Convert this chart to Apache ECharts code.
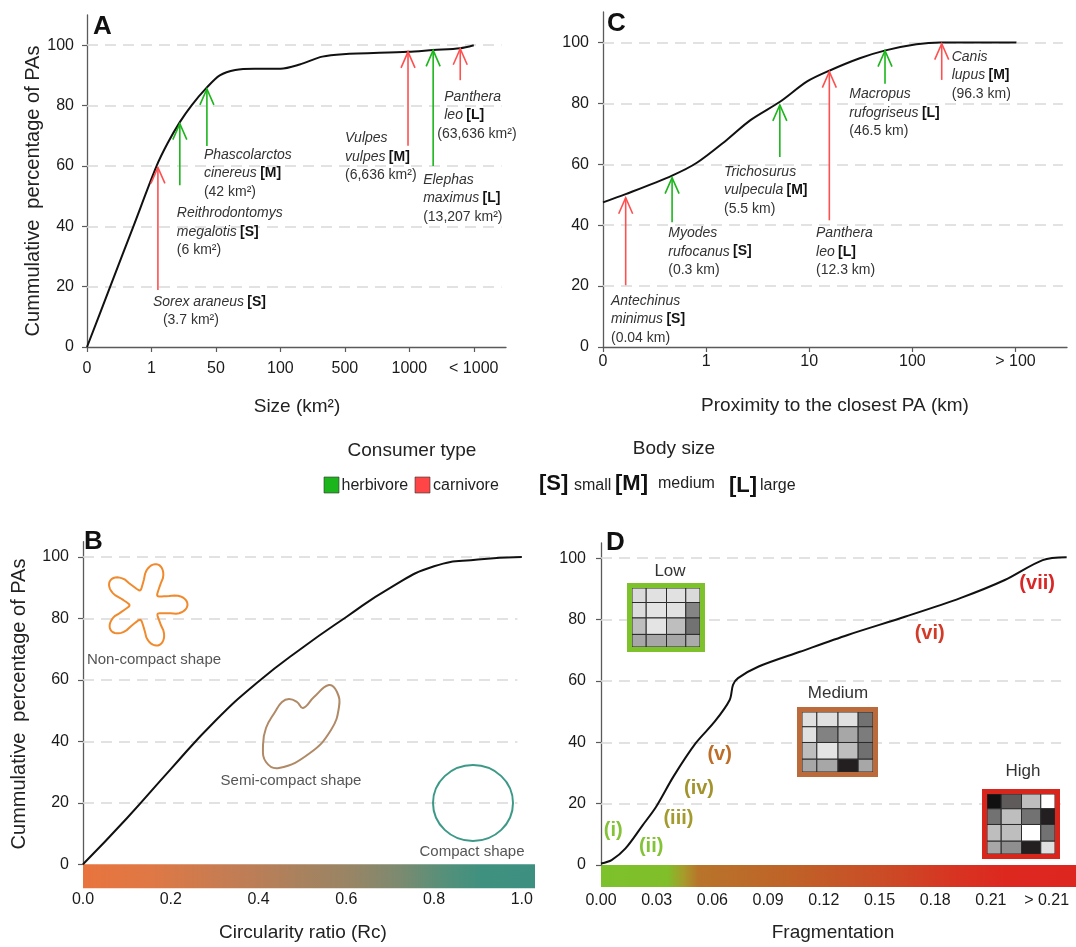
<!DOCTYPE html>
<html>
<head>
<meta charset="utf-8">
<script src="https://cdn.jsdelivr.net/npm/echarts@6/dist/echarts.min.js"></script>
<style>
  html, body { margin: 0; padding: 0; background: #fff; }
  #c { width: 1076px; height: 947px; }
</style>
</head>
<body>
<div id="c"></div>
<script>
// ---------- shared ----------
const pctTicks = [0, 20, 40, 60, 80, 100];

// ---------- A: size of protected areas ----------
const sizeTicks = ['0', '1', '50', '100', '500', '1000', '< 1000'];
const sizeCurve = [[0, 0], [0.36, 20], [0.72, 40], [1.08, 60], [1.25, 67.5], [1.44, 74.5], [1.62, 80],
  [1.86, 86], [2.06, 90], [2.3, 91.8], [2.6, 92.2], [3.0, 92.2], [3.3, 93.6], [3.65, 96.2], [3.97, 97],
  [4.98, 97.8], [5.37, 98.4], [5.79, 99], [6.0, 100]];
const sizeSpecies = ['Sorex araneus', 'Reithrodontomys\nmegalotis', 'Phascolarctos\ncinereus',
  'Vulpes\nvulpes', 'Elephas\nmaximus', 'Panthera\nleo'];
const sizeBody = ['S', 'S', 'M', 'M', 'L', 'L'];
const sizeArea = ['3.7 km²', '6 km²', '42 km²', '6,636 km²', '13,207 km²', '63,636 km²'];
const sizeDiet = ['carnivore', 'herbivore', 'herbivore', 'carnivore', 'herbivore', 'carnivore'];
const sizeArrowX = [1.1, 1.44, 1.86, 4.98, 5.37, 5.79];
const sizeArrowTip = [59.5, 74, 85.5, 97.8, 98.3, 98.8];
const sizeArrowTail = [18.9, 53.6, 66.6, 66.7, 60, 88.4];

// ---------- C: proximity to the closest PA ----------
const proxTicks = ['0', '1', '10', '100', '> 100'];
const proxCurve = [[0, 47.5], [0.22, 50.2], [0.67, 56.3], [0.91, 60.5], [1.2, 68], [1.43, 74.5],
  [1.72, 80.6], [1.98, 87.2], [2.2, 90.8], [2.49, 94.8], [2.74, 97.4], [3.04, 99.4], [3.27, 100], [4.01, 100]];
const proxSpecies = ['Antechinus\nminimus', 'Myodes\nrufocanus', 'Trichosurus\nvulpecula',
  'Panthera\nleo', 'Macropus\nrufogriseus', 'Canis\nlupus'];
const proxBody = ['S', 'S', 'M', 'L', 'L', 'M'];
const proxDist = ['0.04 km', '0.3 km', '5.5 km', '12.3 km', '46.5 km', '96.3 km'];
const proxDiet = ['carnivore', 'herbivore', 'herbivore', 'carnivore', 'herbivore', 'carnivore'];
const proxArrowX = [0.22, 0.67, 1.715, 2.195, 2.735, 3.285];
const proxArrowTip = [49, 55.6, 79.5, 90.4, 97.3, 99.6];
const proxArrowTail = [20.3, 41, 62.4, 41.6, 86.4, 87.7];

// ---------- B: circularity ratio ----------
const circTicks = [0, 0.2, 0.4, 0.6, 0.8, 1.0];
const circCurve = [[0, 0], [0.1, 15], [0.2, 31], [0.3, 46.5], [0.4, 59.5], [0.5, 70.5], [0.6, 80.5],
  [0.7, 90], [0.8, 97], [0.9, 99.2], [1.0, 100]];
const shapeNames = ['Non-compact shape', 'Semi-compact shape', 'Compact shape'];

// ---------- D: fragmentation ----------
const fragTicks = ['0.00', '0.03', '0.06', '0.09', '0.12', '0.15', '0.18', '0.21', '> 0.21'];
const fragCurve = [[0, 0.5], [0.19, 1.6], [0.44, 5.4], [0.75, 13], [0.99, 19], [1.3, 28.8], [1.7, 39.7],
  [2.04, 46.7], [2.31, 53.8], [2.37, 58.7], [2.46, 60.9], [2.83, 64.7], [3.57, 69.5], [4.43, 75],
  [5.47, 81], [6.45, 87], [7.25, 92.9], [7.93, 99.4], [8.36, 100.3]];
const stageNames = ['(i)', '(ii)', '(iii)', '(iv)', '(v)', '(vi)', '(vii)'];
const levelNames = ['Low', 'Medium', 'High'];
const lowCells = ['#dadada', '#e1e1e1', '#e1e1e1', '#dadada',
                  '#dcdcdc', '#e4e4e4', '#e1e1e1', '#858585',
                  '#bebebe', '#e4e4e4', '#bebebe', '#727272',
                  '#a7a7a7', '#a7a7a7', '#a7a7a7', '#ababab'];
const mediumCells = ['#e0e0e0', '#e0e0e0', '#e0e0e0', '#727272',
                     '#e0e0e0', '#828282', '#a7a7a7', '#7c7c7c',
                     '#bebebe', '#e4e4e4', '#bebebe', '#707070',
                     '#a7a7a7', '#a7a7a7', '#231f20', '#a7a7a7'];
const highCells = ['#111111', '#5f5b5b', '#bebebe', '#ffffff',
                   '#727272', '#bebebe', '#727272', '#231f20',
                   '#bebebe', '#bebebe', '#ffffff', '#727272',
                   '#a7a7a7', '#8f8f8f', '#231f20', '#e0e0e0'];

// ---------- layout & style ----------
const FONT = '"Liberation Sans", Arial, sans-serif';
const GREEN = '#1cb51c', RED = '#ff5050';
const TXT = '#333';
const AXC = '#5a5a5a';
const LINE_H = 18.5;
// text block offsets (px) from each arrow tail: [dx, dy, per-line indent]
const sizeLabelLayout = [[-5, 12, [0, 10]], [-3, 28], [-3, 9], [-63, -7.5], [-10, 14], [-16, 16.5, [0, 0, -7]]];
const proxLabelLayout = [[-14.7, 15.5], [-3.8, 11], [-55.8, 14.7], [-13.3, 13], [-35.7, 10.4], [10, -23.2]];
const stagePos = [[0.22, 11.4], [0.9, 6], [1.39, 15.2], [1.76, 25], [2.13, 35.9], [5.9, 75.5], [7.83, 91.8]];
const stageColors = ['#84c238', '#84c238', '#a39b2e', '#a2932c', '#bd6d28', '#d33a28', '#d92626'];

// grids: A, C, B, D (px)
const G = [
  { left: 87, top: 15, width: 419, height: 332 },
  { left: 603, top: 12, width: 464, height: 335 },
  { left: 83, top: 541.7, width: 452, height: 322.6 },
  { left: 601, top: 542.9, width: 475, height: 322.1 }
];

function yAxisCfg(gi, max, margin) {
  return {
    type: 'value', gridIndex: gi, min: 0, max: max,
    axisLine: { show: true, lineStyle: { color: AXC, width: 1.3 } },
    axisTick: { show: true, length: 5, customValues: pctTicks, lineStyle: { color: AXC, width: 1.2 } },
    axisLabel: { customValues: pctTicks, margin: margin, fontSize: 16, color: '#1a1a1a', fontFamily: FONT },
    splitLine: { show: false }
  };
}
function xAxisCfg(gi, max, ticks, fmt, margin, showLine) {
  return {
    type: 'value', gridIndex: gi, min: 0, max: max,
    axisLine: { show: showLine, onZero: false, lineStyle: { color: AXC, width: 1.3 } },
    axisTick: { show: showLine, length: 5, customValues: ticks, lineStyle: { color: AXC, width: 1.2 } },
    axisLabel: { customValues: ticks, formatter: fmt, margin: margin, fontSize: 16, color: '#1a1a1a', fontFamily: FONT },
    splitLine: { show: false }
  };
}
function gridLines(gi, xEnd) {
  return {
    type: 'line', xAxisIndex: gi, yAxisIndex: gi, data: [], z: 1, silent: true,
    markLine: {
      z: 1, silent: true, symbol: ['none', 'none'], label: { show: false }, animation: false,
      lineStyle: { color: '#d9d9d9', type: [11, 7], width: 1.5 },
      emphasis: { disabled: true },
      data: pctTicks.slice(1).map(v => [{ coord: [0, v] }, { coord: [xEnd, v] }])
    }
  };
}
function curve(gi, data, smooth) {
  return {
    type: 'line', xAxisIndex: gi, yAxisIndex: gi, data: data, z: 3,
    showSymbol: false, smooth: smooth, silent: true,
    lineStyle: { color: '#111', width: 2 }
  };
}
const RICH = {
  i: { fontStyle: 'italic', fontSize: 14, fontFamily: FONT, fill: TXT },
  b: { fontWeight: 'bold', fontSize: 14, fontFamily: FONT, fill: '#111' },
  n: { fontSize: 14, fontFamily: FONT, fill: TXT }
};
function textLines(species, body, amount) {
  const parts = species.split('\n');
  const lines = [];
  if (parts.length === 1) {
    lines.push('{i|' + parts[0] + '} {b|[' + body + ']}');
  } else {
    lines.push('{i|' + parts[0] + '}');
    lines.push('{i|' + parts[1] + '} {b|[' + body + ']}');
  }
  lines.push('{n|(' + amount + ')}');
  return lines;
}
function arrows(gi, xs, tips, tails, diets, species, bodies, amounts, layout) {
  return {
    type: 'custom', xAxisIndex: gi, yAxisIndex: gi, z: 5, silent: true, clip: false,
    data: xs.map((x, i) => [x, tips[i], tails[i], i]),
    renderItem: function (params, api) {
      const i = api.value(3);
      const tip = api.coord([api.value(0), api.value(1)]);
      const tail = api.coord([api.value(0), api.value(2)]);
      const col = diets[i] === 'herbivore' ? GREEN : RED;
      const children = [
        { type: 'line', shape: { x1: tail[0], y1: tail[1], x2: tip[0], y2: tip[1] },
          style: { stroke: col, lineWidth: 1.6 } },
        { type: 'polyline', shape: { points: [[tip[0] - 7, tip[1] + 16], [tip[0], tip[1]], [tip[0] + 7, tip[1] + 16]] },
          style: { stroke: col, lineWidth: 1.6, fill: null } }
      ];
      const lay = layout[i];
      const ind = lay[2] || [];
      textLines(species[i], bodies[i], amounts[i]).forEach((ln, k) => {
        children.push({
          type: 'text', x: tail[0] + lay[0] + (ind[k] || 0), y: tail[1] + lay[1] + k * LINE_H,
          style: { text: ln, rich: RICH, align: 'left', verticalAlign: 'middle' }
        });
      });
      return { type: 'group', children: children };
    }
  };
}
// stage numerals placed in data coordinates of panel D
function stageLabels(gi) {
  return {
    type: 'custom', xAxisIndex: gi, yAxisIndex: gi, z: 6, silent: true, clip: false,
    data: stagePos.map((p, i) => [p[0], p[1], i]),
    renderItem: function (params, api) {
      const i = api.value(2);
      const p = api.coord([api.value(0), api.value(1)]);
      return {
        type: 'text', x: p[0], y: p[1],
        style: { text: stageNames[i], font: 'bold 20px ' + FONT, fill: stageColors[i],
          align: 'center', verticalAlign: 'middle' }
      };
    }
  };
}

// ---------- decorative graphics ----------
function txt(x, y, s, font, opts) {
  return Object.assign({
    type: 'text', x: x, y: y, z: 10,
    style: Object.assign({ text: s, font: font + ' ' + FONT, fill: '#222', align: 'center', verticalAlign: 'middle' }, (opts && opts.style) || {})
  }, opts && opts.el || {});
}
function flower(cx, cy, r0, amp, rot) {
  const pts = [];
  for (let k = 0; k < 160; k++) {
    const t = k / 160 * Math.PI * 2;
    const c = Math.cos(5 * (t - rot));
    const r = r0 + amp * Math.sign(c) * Math.pow(Math.abs(c), 0.7);
    pts.push([cx + r * Math.cos(t), cy + r * Math.sin(t)]);
  }
  return pts;
}
function gridBox(x, y, w, h, border, cells) {
  const colW = [14, 20, 19, 14], rowH = [15, 16, 17, 13];
  const iw = w - 10, ih = h - 10;
  const cs = colW.reduce((a, b) => a + b), rs = rowH.reduce((a, b) => a + b);
  const out = [];
  let yy = y + 5;
  for (let r = 0; r < 4; r++) {
    let xx = x + 5;
    const hh = rowH[r] / rs * ih;
    for (let c = 0; c < 4; c++) {
      const ww = colW[c] / cs * iw;
      out.push({ type: 'rect', z: 10, shape: { x: xx, y: yy, width: ww, height: hh },
        style: { fill: cells[r * 4 + c], stroke: '#2b2b2b', lineWidth: 1 } });
      xx += ww;
    }
    yy += hh;
  }
  out.push({ type: 'rect', z: 11, shape: { x: x + 2.5, y: y + 2.5, width: w - 5, height: h - 5 },
    style: { fill: 'none', stroke: border, lineWidth: 5 } });
  return out;
}

const gB = G[2], gD = G[3];
const graphics = [
  // panel letters
  txt(93, 27, 'A', 'bold 26px', { style: { align: 'left', fill: '#111' } }),
  txt(607, 24, 'C', 'bold 26px', { style: { align: 'left', fill: '#111' } }),
  txt(84, 542, 'B', 'bold 26px', { style: { align: 'left', fill: '#111' } }),
  txt(606, 543, 'D', 'bold 26px', { style: { align: 'left', fill: '#111' } }),
  // axis titles
  txt(33, 191, 'Cummulative  percentage of PAs', '20px', { el: { rotation: Math.PI / 2 } }),
  txt(19, 704, 'Cummulative  percentage of PAs', '20px', { el: { rotation: Math.PI / 2 } }),
  txt(297, 407, 'Size (km²)', '19px'),
  txt(835, 406, 'Proximity to the closest PA (km)', '19px'),
  txt(303, 933, 'Circularity ratio (Rc)', '19px'),
  txt(833, 933, 'Fragmentation', '19px'),
  // legend: consumer type
  txt(412, 451, 'Consumer type', '19px'),
  { type: 'rect', z: 10, shape: { x: 324, y: 477, width: 15, height: 16 }, style: { fill: GREEN, stroke: '#333', lineWidth: 0.6 } },
  txt(341.5, 486, 'herbivore', '16px', { style: { align: 'left' } }),
  { type: 'rect', z: 10, shape: { x: 415, y: 477, width: 15, height: 16 }, style: { fill: '#ff4545', stroke: '#333', lineWidth: 0.6 } },
  txt(433, 486, 'carnivore', '16px', { style: { align: 'left' } }),
  // legend: body size
  txt(674, 449, 'Body size', '19px'),
  txt(539, 484, '[S]', 'bold 22px', { style: { align: 'left', fill: '#111' } }),
  txt(574, 486, 'small', '16px', { style: { align: 'left' } }),
  txt(615, 484, '[M]', 'bold 22px', { style: { align: 'left', fill: '#111' } }),
  txt(658, 484, 'medium', '16px', { style: { align: 'left' } }),
  txt(729, 486, '[L]', 'bold 22px', { style: { align: 'left', fill: '#111' } }),
  txt(760, 486, 'large', '16px', { style: { align: 'left' } }),
  // colour bars under B and D
  { type: 'rect', z: 0, shape: { x: gB.left, y: gB.top + gB.height, width: gB.width, height: 24 },
    style: { fill: { type: 'linear', x: 0, y: 0, x2: 1, y2: 0, colorStops: [
      { offset: 0, color: '#e8743e' }, { offset: 0.15, color: '#df7845' }, { offset: 0.35, color: '#c07d55' },
      { offset: 0.5, color: '#a6825f' }, { offset: 0.6, color: '#968566' }, { offset: 0.7, color: '#7c8a70' },
      { offset: 0.8, color: '#55907a' }, { offset: 0.88, color: '#3f917f' }, { offset: 1, color: '#3d8f80' }] } } },
  { type: 'rect', z: 0, shape: { x: gD.left, y: gD.top + gD.height, width: gD.width, height: 22 },
    style: { fill: { type: 'linear', x: 0, y: 0, x2: 1, y2: 0, colorStops: [
      { offset: 0, color: '#7dc22a' }, { offset: 0.14, color: '#80be2a' }, { offset: 0.175, color: '#a89a2a' },
      { offset: 0.205, color: '#b8742a' }, { offset: 0.4, color: '#bf6228' }, { offset: 0.6, color: '#cb4b26' },
      { offset: 0.75, color: '#d83322' }, { offset: 0.85, color: '#dd2820' }, { offset: 1, color: '#dd2620' }] } } },
  // shape illustrations in B
  { type: 'polygon', z: 10, shape: { points: flower(145, 605, 29, 13.5, -1.27) },
    style: { fill: 'none', stroke: '#f08a2c', lineWidth: 2 } },
  { type: 'polygon', z: 10, shape: { smooth: 0.45, points: [[289, 699], [297, 702], [303, 708], [314, 697], [329, 685],
      [337, 692], [339, 707], [331, 730], [310, 753], [279, 768], [266, 762], [263, 745], [266, 728], [275, 712], [282, 702]] },
    style: { fill: 'none', stroke: '#b08a66', lineWidth: 2 } },
  { type: 'ellipse', z: 10, shape: { cx: 473, cy: 803, rx: 40, ry: 38 },
    style: { fill: 'none', stroke: '#3d9987', lineWidth: 2 } },
  txt(154, 660, shapeNames[0], '15px', { style: { fill: '#555' } }),
  txt(291, 781, shapeNames[1], '15px', { style: { fill: '#555' } }),
  txt(472, 852, shapeNames[2], '15px', { style: { fill: '#555' } }),
  // fragmentation level illustrations in D
  txt(670, 571, levelNames[0], '17px', { style: { fill: '#333' } }),
  txt(838, 693, levelNames[1], '17px', { style: { fill: '#333' } }),
  txt(1023, 771, levelNames[2], '17px', { style: { fill: '#333' } })
].concat(gridBox(627, 583, 78, 69, '#7dc22a', lowCells))
 .concat(gridBox(797, 707, 81, 70, '#bb6a3c', mediumCells))
 .concat(gridBox(982, 789, 78, 70, '#d9261c', highCells));

const option = {
  animation: false,
  backgroundColor: '#fff',
  textStyle: { fontFamily: FONT },
  grid: G.map(g => Object.assign({ containLabel: false, outerBoundsMode: 'none' }, g)),
  xAxis: [
    xAxisCfg(0, 6.5, [0, 1, 2, 3, 4, 5, 6], v => sizeTicks[Math.round(v)], 14, true),
    xAxisCfg(1, 4.5, [0, 1, 2, 3, 4], v => proxTicks[Math.round(v)], 7, true),
    xAxisCfg(2, 1.03, circTicks, v => v.toFixed(1), 27, false),
    xAxisCfg(3, 475 / 55.7, [0, 1, 2, 3, 4, 5, 6, 7, 8], v => fragTicks[Math.round(v)], 28, false)
  ],
  yAxis: [yAxisCfg(0, 110, 13), yAxisCfg(1, 110, 14), yAxisCfg(2, 105, 14), yAxisCfg(3, 105, 15)],
  series: [
    gridLines(0, 6.43), gridLines(1, 4.46), gridLines(2, 0.99), gridLines(3, 8.26),
    curve(0, sizeCurve, 0.3), curve(1, proxCurve, 0.3), curve(2, circCurve, 0.5), curve(3, fragCurve, 0.3),
    arrows(0, sizeArrowX, sizeArrowTip, sizeArrowTail, sizeDiet, sizeSpecies, sizeBody, sizeArea, sizeLabelLayout),
    arrows(1, proxArrowX, proxArrowTip, proxArrowTail, proxDiet, proxSpecies, proxBody, proxDist, proxLabelLayout),
    stageLabels(3)
  ],
  graphic: graphics
};

const chart = echarts.init(document.getElementById('c'), null, { renderer: 'canvas' });
chart.setOption(option);
</script>
</body>
</html>
